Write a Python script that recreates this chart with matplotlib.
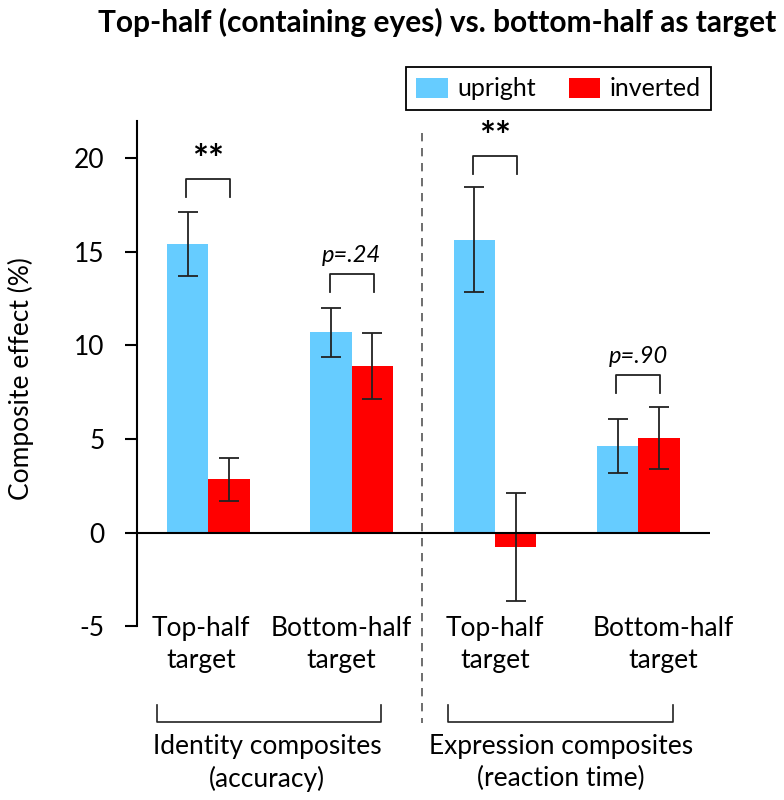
import numpy as np
import matplotlib
matplotlib.use('Agg')
import matplotlib.pyplot as plt
from matplotlib.lines import Line2D
from matplotlib.patches import Patch

plt.rcParams.update({
    'font.family': ['Lato', 'DejaVu Sans'],
    'axes.unicode_minus': False,
    'axes.spines.top': False,
    'axes.spines.right': False,
    'axes.spines.bottom': False,
})
BLUE = '#66CCFF'
RED = '#FF0000'
DARK = '#222222'

# data
conditions = ['Top-half\ntarget', 'Bottom-half\ntarget', 'Top-half\ntarget', 'Bottom-half\ntarget']
upright = [15.4, 10.7, 15.65, 4.65]
upright_err = [1.7, 1.3, 2.8, 1.45]
inverted = [2.85, 8.9, -0.75, 5.07]
inverted_err = [1.15, 1.75, 2.9, 1.65]
sig_labels = ['**', 'p=.24', '**', 'p=.90']
sig_heights = [18.9, 13.8, 20.1, 8.4]
groups = ['Identity composites\n(accuracy)', 'Expression composites\n(reaction time)']

x = np.arange(len(conditions))
width = 0.288

fig = plt.figure(figsize=(7.84, 8), dpi=100)
ax = fig.add_axes([0.1744, 0.2169, 0.7313, 0.6323])

ax.bar(x - width/2, upright, width, color=BLUE, label='upright', zorder=2)
ax.bar(x + width/2, inverted, width, color=RED, label='inverted', zorder=2)
ax.errorbar(x - width/2, upright, yerr=upright_err, fmt='none', ecolor=DARK,
            elinewidth=1.3, capsize=7.5, capthick=1.3, zorder=3)
ax.errorbar(x + width/2, inverted, yerr=inverted_err, fmt='none', ecolor=DARK,
            elinewidth=1.3, capsize=7.5, capthick=1.3, zorder=3)
ax.axhline(0, color='black', lw=1.5, zorder=4)

ax.set_xlim(-0.5, 3.5)
ax.set_ylim(-5, 22)
ax.set_yticks([-5, 0, 5, 10, 15, 20])
ax.set_xticks([])
ax.spines['left'].set_bounds(-5, 22)
ax.spines['left'].set_linewidth(1.5)
ax.tick_params(axis='y', direction='out', length=9, width=1.5, pad=14, labelsize=19)

# significance brackets
for i, (lab, h) in enumerate(zip(sig_labels, sig_heights)):
    xl, xr = x[i] - width/2 - 0.01, x[i] + width/2 + 0.01
    ax.plot([xl, xl, xr, xr], [h - 0.95, h, h, h - 0.95], color=DARK, lw=1.3)
    if lab == '**':
        ax.text(x[i], h + 0.05, lab, ha='center', va='bottom', fontsize=27,
                fontweight='bold')
    else:
        ax.text(x[i], h + 0.45, lab, ha='center', va='bottom', fontsize=17,
                style='italic')

# condition labels under the axis
label_x = [-0.05, 0.93, 2.0, 3.17]
for lx, lab in zip(label_x, conditions):
    ax.text(lx, -4.45, lab, ha='center', va='top', fontsize=19,
            linespacing=1.32, clip_on=False)

# dashed separator
ax.add_line(Line2D([1.49, 1.49], [21.35, -10.15], color='#555555', lw=1.2,
                   linestyle=(0, (5, 4)), clip_on=False))

# group brackets and labels
for (xl, xr), (gx, lab) in zip([(-0.36, 1.207), (1.671, 3.241)],
                               [(0.41, groups[0]), (2.46, groups[1])]):
    ax.add_line(Line2D([xl, xl, xr, xr], [-9.2, -10.12, -10.12, -9.2],
                       color=DARK, lw=1.2, clip_on=False))
    ax.text(gx, -10.75, lab, ha='center', va='top', fontsize=19,
            linespacing=1.32, clip_on=False)

fig.text(0.027, 0.527, 'Composite effect (%)', rotation=90, ha='center',
         va='center', fontsize=19)
fig.text(0.557, 0.960, 'Top-half (containing eyes) vs. bottom-half as target',
         ha='center', va='baseline', fontsize=21.5, fontweight='bold')

handles = [Patch(facecolor=BLUE, label='upright'), Patch(facecolor=RED, label='inverted')]
leg = fig.legend(handles=handles, loc='center', bbox_to_anchor=(0.7128, 0.889),
                 ncol=2, fontsize=18, frameon=True, fancybox=False,
                 edgecolor='black', framealpha=1, handlelength=1.25,
                 handleheight=0.85, handletextpad=0.4, columnspacing=1.3,
                 borderpad=0.4)
leg.get_frame().set_linewidth(1.3)

fig.savefig('out.png', dpi=100)
